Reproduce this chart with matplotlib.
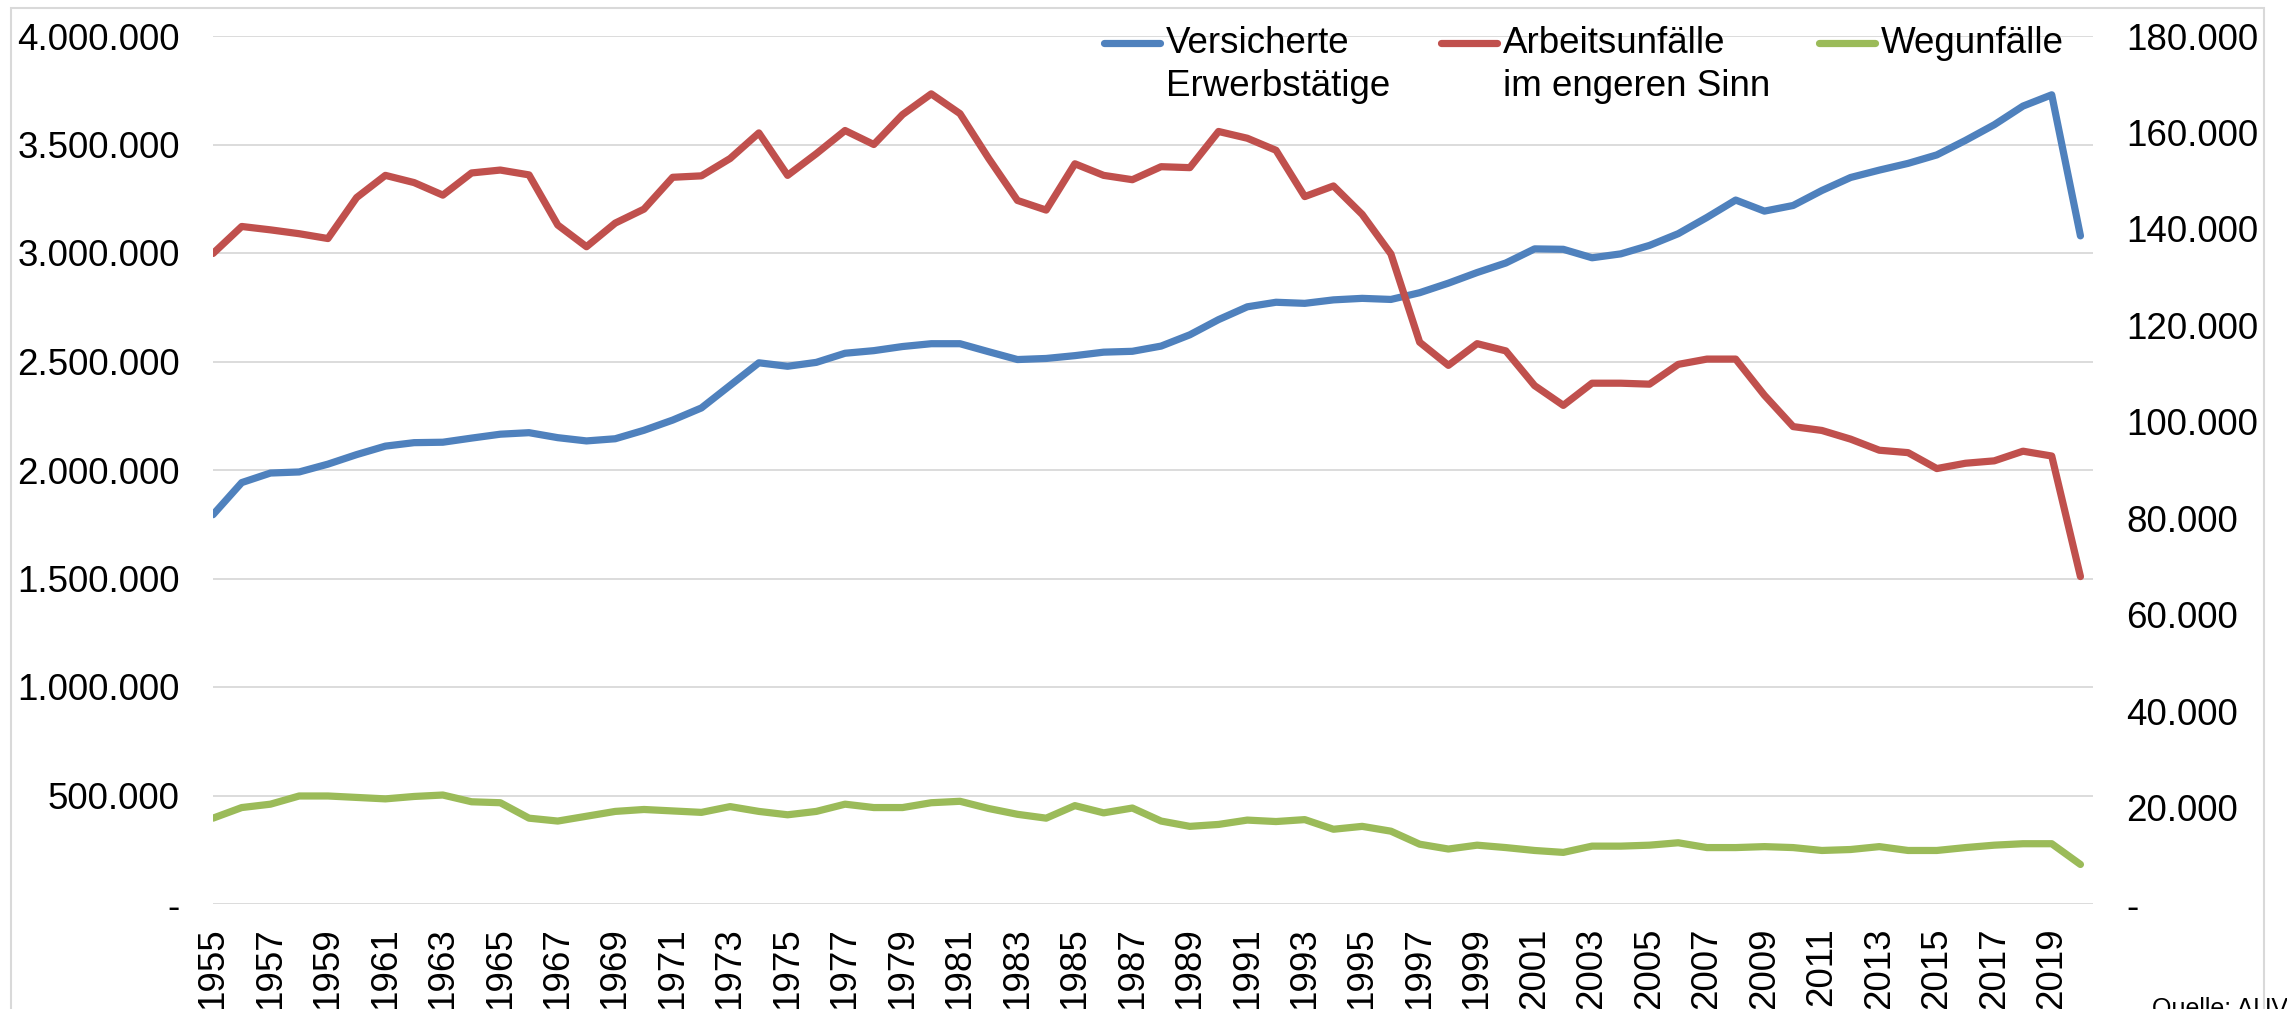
import matplotlib
matplotlib.use("Agg")
import matplotlib.pyplot as plt
from matplotlib.lines import Line2D
from matplotlib.patches import Rectangle
from matplotlib.ticker import FuncFormatter

plt.rcParams['font.family'] = ['Liberation Sans', 'DejaVu Sans']

years = list(range(1955, 2021))

versicherte = [1794000, 1942000, 1986000, 1991000, 2027000, 2071000, 2110000, 2126000, 2128000, 2147000,
               2165000, 2172000, 2149000, 2134000, 2144000, 2183000, 2230000, 2286000, 2390000, 2494000,
               2478000, 2496000, 2538000, 2550000, 2569000, 2582000, 2582000, 2545000, 2509000, 2514000,
               2527000, 2543000, 2547000, 2571000, 2623000, 2693000, 2752000, 2773000, 2768000, 2784000,
               2791000, 2786000, 2817000, 2861000, 2910000, 2954000, 3019000, 3017000, 2978000, 2996000,
               3035000, 3089000, 3164000, 3244000, 3193000, 3219000, 3288000, 3348000, 3382000, 3413000,
               3452000, 3519000, 3591000, 3677000, 3729000, 3079000]

arbeitsunfaelle = [134900, 140500, 139800, 139000, 138000, 146500, 151100, 149600, 147000, 151600,
                   152200, 151200, 140800, 136300, 141200, 144100, 150700, 151000, 154600, 159900,
                   151100, 155600, 160400, 157500, 163700, 168000, 163900, 154600, 145900, 143900,
                   153500, 151100, 150200, 152900, 152700, 160200, 158800, 156300, 146700, 148900,
                   143000, 134800, 116500, 111700, 116200, 114700, 107500, 103400, 108000, 108000,
                   107800, 111900, 113000, 113000, 105500, 99000, 98200, 96400, 94100, 93600,
                   90300, 91400, 91900, 93900, 92900, 67900]

wegunfaelle = [17800, 20000, 20700, 22400, 22400, 22100, 21800, 22300, 22600, 21200,
               21000, 17800, 17200, 18200, 19200, 19600, 19300, 19000, 20200, 19200,
               18500, 19200, 20700, 20000, 20000, 21000, 21300, 19800, 18600, 17800,
               20400, 18900, 19900, 17200, 16100, 16500, 17400, 17100, 17500, 15500,
               16100, 15100, 12400, 11400, 12200, 11700, 11100, 10700, 12000, 12000,
               12200, 12700, 11700, 11700, 11900, 11700, 11100, 11300, 11900, 11100,
               11100, 11700, 12200, 12500, 12500, 8200]

series_labels = ["Versicherte\nErwerbstätige", "Arbeitsunfälle\nim engeren Sinn", "Wegunfälle"]
left_ticks = list(range(0, 4000001, 500000))
right_ticks = list(range(0, 180001, 20000))
label_years = list(range(1955, 2020, 2))

C_BLUE = "#4F81BD"
C_RED = "#C0504D"
C_GREEN = "#9BBB59"
C_GRID = "#D9D9D9"
FS = 26.5

W, H = 2287, 1009
fig = plt.figure(figsize=(W / 100, H / 100), dpi=100)

def fx(px):
    return px / W

def fy(py):
    return 1 - py / H

ax_l, ax_r, ax_t, ax_b = 213, 2093, 36, 904
ax = fig.add_axes([fx(ax_l), fy(ax_b), fx(ax_r) - fx(ax_l), fy(ax_t) - fy(ax_b)])
ax2 = ax.twinx()

def de_fmt(v, pos=None):
    if v == 0:
        return "-"
    return f"{v:,.0f}".replace(",", ".")

x_end = 1955 + (ax_r - ax_l) / 28.73
ax.set_xlim(1955, x_end)
ax.set_ylim(0, 4000000)
ax2.set_ylim(0, 180000)

ax.set_yticks(left_ticks)
ax.yaxis.set_major_formatter(FuncFormatter(de_fmt))
ax2.set_yticks(right_ticks)
ax2.yaxis.set_major_formatter(FuncFormatter(de_fmt))
ax.grid(axis='y', color=C_GRID, lw=1.3)
ax.set_axisbelow(True)

ax.set_xticks(label_years)
ax.set_xticklabels([str(y) for y in label_years], rotation=90, va='top', ha='center')

ax.tick_params(axis='x', length=0, pad=17, labelsize=FS)
ax.tick_params(axis='y', length=0, pad=24, labelsize=FS)
ax2.tick_params(axis='y', length=0, pad=24, labelsize=FS)

for a in (ax, ax2):
    for s in a.spines.values():
        s.set_visible(False)

lw = 5.2
ax.plot(years, versicherte, color=C_BLUE, lw=lw, solid_joinstyle='round', solid_capstyle='round', zorder=3)
ax2.plot(years, arbeitsunfaelle, color=C_RED, lw=lw, solid_joinstyle='round', solid_capstyle='round', zorder=3)
ax2.plot(years, wegunfaelle, color=C_GREEN, lw=lw, solid_joinstyle='round', solid_capstyle='round', zorder=3)

# legend (manual, Excel style: handle aligned with first text line)
leg_items = [(1104, C_BLUE, series_labels[0]),
             (1441, C_RED, series_labels[1]),
             (1819, C_GREEN, series_labels[2])]
for x0, col, lab in leg_items:
    fig.add_artist(Line2D([fx(x0), fx(x0 + 56)], [fy(43), fy(43)], color=col, lw=lw,
                          solid_capstyle='round', transform=fig.transFigure))
    lines = lab.split("\n")
    for i, ln in enumerate(lines):
        fig.text(fx(x0 + 62), fy(53 + 43 * i), ln, fontsize=FS, va='baseline', ha='left')

# chart area border
fig.add_artist(Rectangle((fx(11), fy(1030)), fx(2264) - fx(11), fy(8) - fy(1030),
                         transform=fig.transFigure, fill=False, edgecolor=C_GRID, lw=1.5))

fig.text(fx(2152), fy(997), "Quelle: AUVA", fontsize=18, va='top', ha='left')

fig.savefig("out.png", dpi=100)
